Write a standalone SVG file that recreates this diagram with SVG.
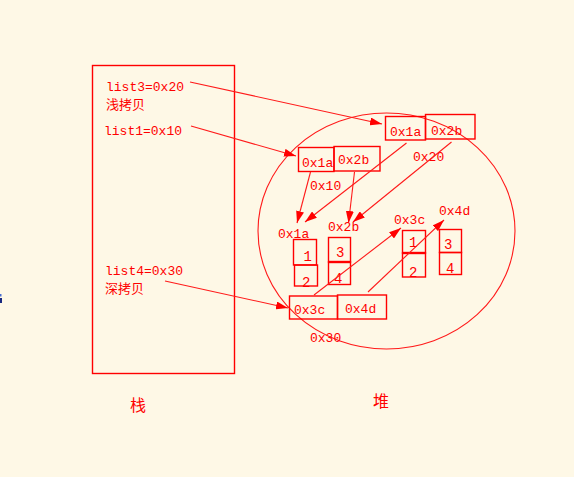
<svg xmlns="http://www.w3.org/2000/svg" width="574" height="477" viewBox="0 0 574 477">
<style>
.bx{fill:none;stroke:#ff0000;stroke-width:1.4}
.ln{stroke:#ff1a1a;stroke-width:1.1;fill:none}
.t{font-family:"Liberation Mono","Noto Sans CJK SC",monospace;font-size:13px;fill:#ff0000}
.d{font-family:"Liberation Mono",monospace;font-size:14px;fill:#ff0000}
.c{font-family:"Noto Sans CJK SC",sans-serif;font-size:13px;fill:#ff0000}
</style>
<defs>
<marker id="ah" viewBox="0 0 12 8" refX="12" refY="4" markerWidth="12" markerHeight="8" markerUnits="userSpaceOnUse" orient="auto">
<path d="M0,0 L12,4 L0,8 Z" fill="#ff0000"/>
</marker>
</defs>
<rect width="574" height="477" fill="#fef8e6"/>
<rect x="0" y="294" width="1.5" height="2.5" fill="#4a6fd0"/>
<rect x="0" y="298" width="2" height="5" fill="#1a2a80"/>

<g id="stack">
<rect class="bx" x="92.5" y="65.5" width="142" height="308"/>
<text class="t" x="106" y="91">list3=0x20</text>
<text class="c" x="106" y="109">浅拷贝</text>
<text class="t" x="104" y="135">list1=0x10</text>
<text class="t" x="105" y="275">list4=0x30</text>
<text class="c" x="105" y="293">深拷贝</text>
<text class="c" x="130" y="411" style="font-size:16px">栈</text>
</g>

<g id="heap">
<ellipse class="ln" cx="386.5" cy="231" rx="128.5" ry="118"/>
<text class="c" x="373" y="407" style="font-size:16px">堆</text>
</g>

<g id="list3-obj">
<rect class="bx" x="385.5" y="116.5" width="40" height="23.5"/>
<rect class="bx" x="425.5" y="114.5" width="49.5" height="24.5"/>
<text class="t" x="390" y="135.5">0x1a</text>
<text class="t" x="431" y="135">0x2b</text>
<text class="t" x="413" y="161">0x20</text>
</g>

<g id="list1-obj">
<rect class="bx" x="298.5" y="147.5" width="35.5" height="24"/>
<rect class="bx" x="334" y="146.5" width="46" height="24.5"/>
<text class="t" x="302" y="166.5">0x1a</text>
<text class="t" x="338" y="163.5">0x2b</text>
<text class="t" x="310" y="190">0x10</text>
</g>

<g id="list4-obj">
<rect class="bx" x="289.5" y="296" width="48" height="23"/>
<rect class="bx" x="337.5" y="295" width="49" height="24"/>
<text class="t" x="294" y="313.5">0x3c</text>
<text class="t" x="345" y="313">0x4d</text>
<text class="t" x="310" y="341.5">0x30</text>
</g>

<g id="obj-0x1a">
<text class="t" x="278" y="237.5">0x1a</text>
<rect class="bx" x="293.5" y="239.5" width="23" height="25.5"/>
<rect class="bx" x="294.5" y="265" width="23" height="21"/>
<text class="d" x="303.5" y="260.5">1</text>
<text class="d" x="302" y="286.5">2</text>
</g>

<g id="obj-0x2b">
<text class="t" x="328" y="231">0x2b</text>
<rect class="bx" x="328.5" y="237.5" width="22" height="24.5"/>
<rect class="bx" x="328.5" y="262" width="22" height="22.5"/>
<line x1="328.5" y1="262" x2="350.5" y2="262" stroke="#ff0000" stroke-width="2.4"/>
<text class="d" x="336" y="256.5">3</text>
<text class="d" x="334" y="283">4</text>
</g>

<g id="obj-0x3c">
<text class="t" x="394" y="223.5">0x3c</text>
<rect class="bx" x="402.5" y="230.5" width="23" height="22.5"/>
<rect class="bx" x="402.5" y="253" width="23" height="24"/>
<line x1="402.5" y1="253" x2="425.5" y2="253" stroke="#ff0000" stroke-width="2.4"/>
<text class="d" x="409" y="246.5">1</text>
<text class="d" x="409" y="276.5">2</text>
</g>

<g id="obj-0x4d">
<text class="t" x="439" y="215">0x4d</text>
<rect class="bx" x="439.5" y="229.5" width="22" height="23"/>
<rect class="bx" x="439.5" y="252.5" width="22" height="22"/>
<text class="d" x="444" y="248.5">3</text>
<text class="d" x="446" y="272.5">4</text>
</g>

<g id="connectors">
<line class="ln" x1="190" y1="82" x2="382" y2="124" marker-end="url(#ah)"/>
<line class="ln" x1="191" y1="126" x2="296" y2="156" marker-end="url(#ah)"/>
<line class="ln" x1="165" y1="281" x2="288" y2="308" marker-end="url(#ah)"/>
<line class="ln" x1="310.5" y1="172" x2="297" y2="223" marker-end="url(#ah)"/>
<line class="ln" x1="354.5" y1="172" x2="348.5" y2="223" marker-end="url(#ah)"/>
<line class="ln" x1="406.5" y1="143" x2="305" y2="222" marker-end="url(#ah)"/>
<line class="ln" x1="451.5" y1="142" x2="353" y2="222" marker-end="url(#ah)"/>
<line class="ln" x1="314" y1="295" x2="401" y2="228" marker-end="url(#ah)"/>
<line class="ln" x1="368" y1="292" x2="444" y2="220" marker-end="url(#ah)"/>
</g>
</svg>
